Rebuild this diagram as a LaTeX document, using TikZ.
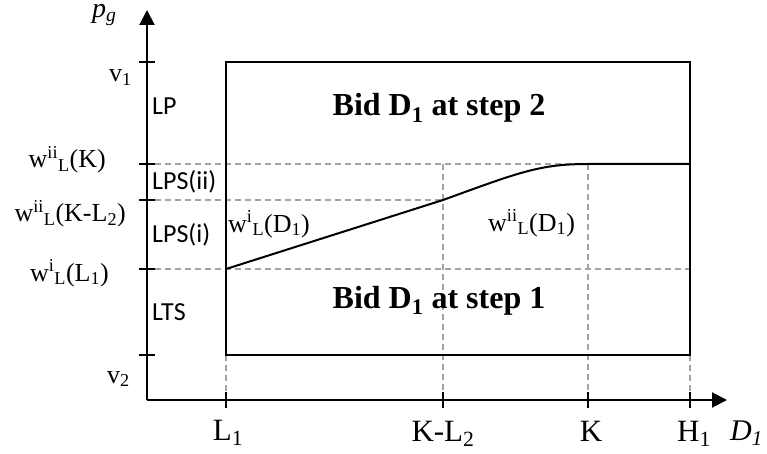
\documentclass[tikz,border=0pt]{standalone}
\usepackage{fontspec}
\setmainfont{Liberation Serif}
\setsansfont{Carlito}
\usetikzlibrary{arrows.meta}
\begin{document}
\begin{tikzpicture}[x=1pt,y=-1pt,
  axis/.style={line width=2pt,-{Triangle[length=15pt,width=15pt]}},
  frame/.style={line width=2pt},
  tick/.style={line width=2pt},
  curve/.style={line width=2pt},
  guide/.style={draw=black!36,line width=1.3pt,dash pattern=on 6pt off 4pt},
  lab/.style={font=\fontsize{26}{30}\selectfont,inner sep=0pt},
  axlab/.style={font=\fontsize{31}{35}\selectfont,inner sep=0pt},
  boldlab/.style={font=\fontsize{32}{36}\selectfont\bfseries,inner sep=0pt},
  sanslab/.style={font=\sffamily\fontsize{26}{30}\selectfont,inner sep=0pt},
  varlab/.style={font=\fontsize{30}{34}\selectfont\itshape,inner sep=0pt},
  toplab/.style={font=\fontsize{28}{30}\selectfont\itshape,inner sep=0pt,text height=12pt,text depth=9pt}]
\useasboundingbox (0,0) rectangle (767,454);
% key coordinates
\coordinate (O) at (147,400);
\coordinate (ytip) at (147,10);
\coordinate (xtip) at (727,400);
\coordinate (TL) at (226,62);
\coordinate (BR) at (690,355);
\coordinate (A) at (226,269);
\coordinate (B) at (443,200);
\coordinate (C) at (588,164);
\coordinate (D) at (690,164);
% dashed guides
\draw[guide] (155,164) -- (C);
\draw[guide] (155,200) -- (B);
\draw[guide] (155,269) -- (690,269);
\draw[guide] (443,164) -- (443,400);
\draw[guide] (588,164) -- (588,400);
\draw[guide] (226,355) -- (226,400);
\draw[guide] (690,355) -- (690,400);
% frame
\draw[frame] (TL) rectangle (BR);
% curve
\draw[curve] (A) -- (B) .. controls (520,172) and (540,164) .. (C) -- (D);
% axes
\draw[axis] (O) -- (ytip);
\draw[axis] (O) -- (xtip);
% y ticks
\foreach \yy in {62,164,200,269,355} \draw[tick] (139,\yy) -- (155,\yy);
% x ticks
\foreach \xx in {226,443,588,690} \draw[tick] (\xx,392) -- (\xx,408);
% y labels
\node[lab,anchor=base east] (v1) at (132,82) {v\textsubscript{1}};
\node[lab,anchor=base east] (wK) at (106,168) {w\textsuperscript{ii}\textsubscript{L}(K)};
\node[lab,anchor=base east] (wKL) at (126,222) {w\textsuperscript{ii}\textsubscript{L}(K-L\textsubscript{2})};
\node[lab,anchor=base east] (wL1) at (109,281) {w\textsuperscript{i}\textsubscript{L}(L\textsubscript{1})};
\node[lab,anchor=base east] (v2) at (130,383) {v\textsubscript{2}};
% x labels
\node[axlab,anchor=base] (L1) at (228,440) {L\textsubscript{1}};
\node[axlab,anchor=base] (KL2) at (443,441) {K-L\textsubscript{2}};
\node[axlab,anchor=base] (K) at (591,441) {K};
\node[axlab,anchor=base] (H1) at (694,441) {H\textsubscript{1}};
\node[varlab,anchor=base west] (D1) at (730,440) {D\textsubscript{1}};
\node[toplab,anchor=base west] (pg) at (92,18) {p\textsubscript{g}};
% region labels
\node[sanslab,anchor=base west] (LP) at (152,115) {LP};
\node[sanslab,anchor=base west] (LPSii) at (152,190) {LPS(ii)};
\node[sanslab,anchor=base west] (LPSi) at (152,242) {LPS(i)};
\node[sanslab,anchor=base west] (LTS) at (152,320) {LTS};
\node[boldlab,anchor=base] (step2) at (439,116) {Bid D\textsubscript{1} at step 2};
\node[boldlab,anchor=base] (step1) at (439,308) {Bid D\textsubscript{1} at step 1};
\node[lab,anchor=base west] (wi) at (228,232) {w\textsuperscript{i}\textsubscript{L}(D\textsubscript{1})};
\node[lab,anchor=base west] (wii) at (488,231) {w\textsuperscript{ii}\textsubscript{L}(D\textsubscript{1})};
\end{tikzpicture}
\end{document}
